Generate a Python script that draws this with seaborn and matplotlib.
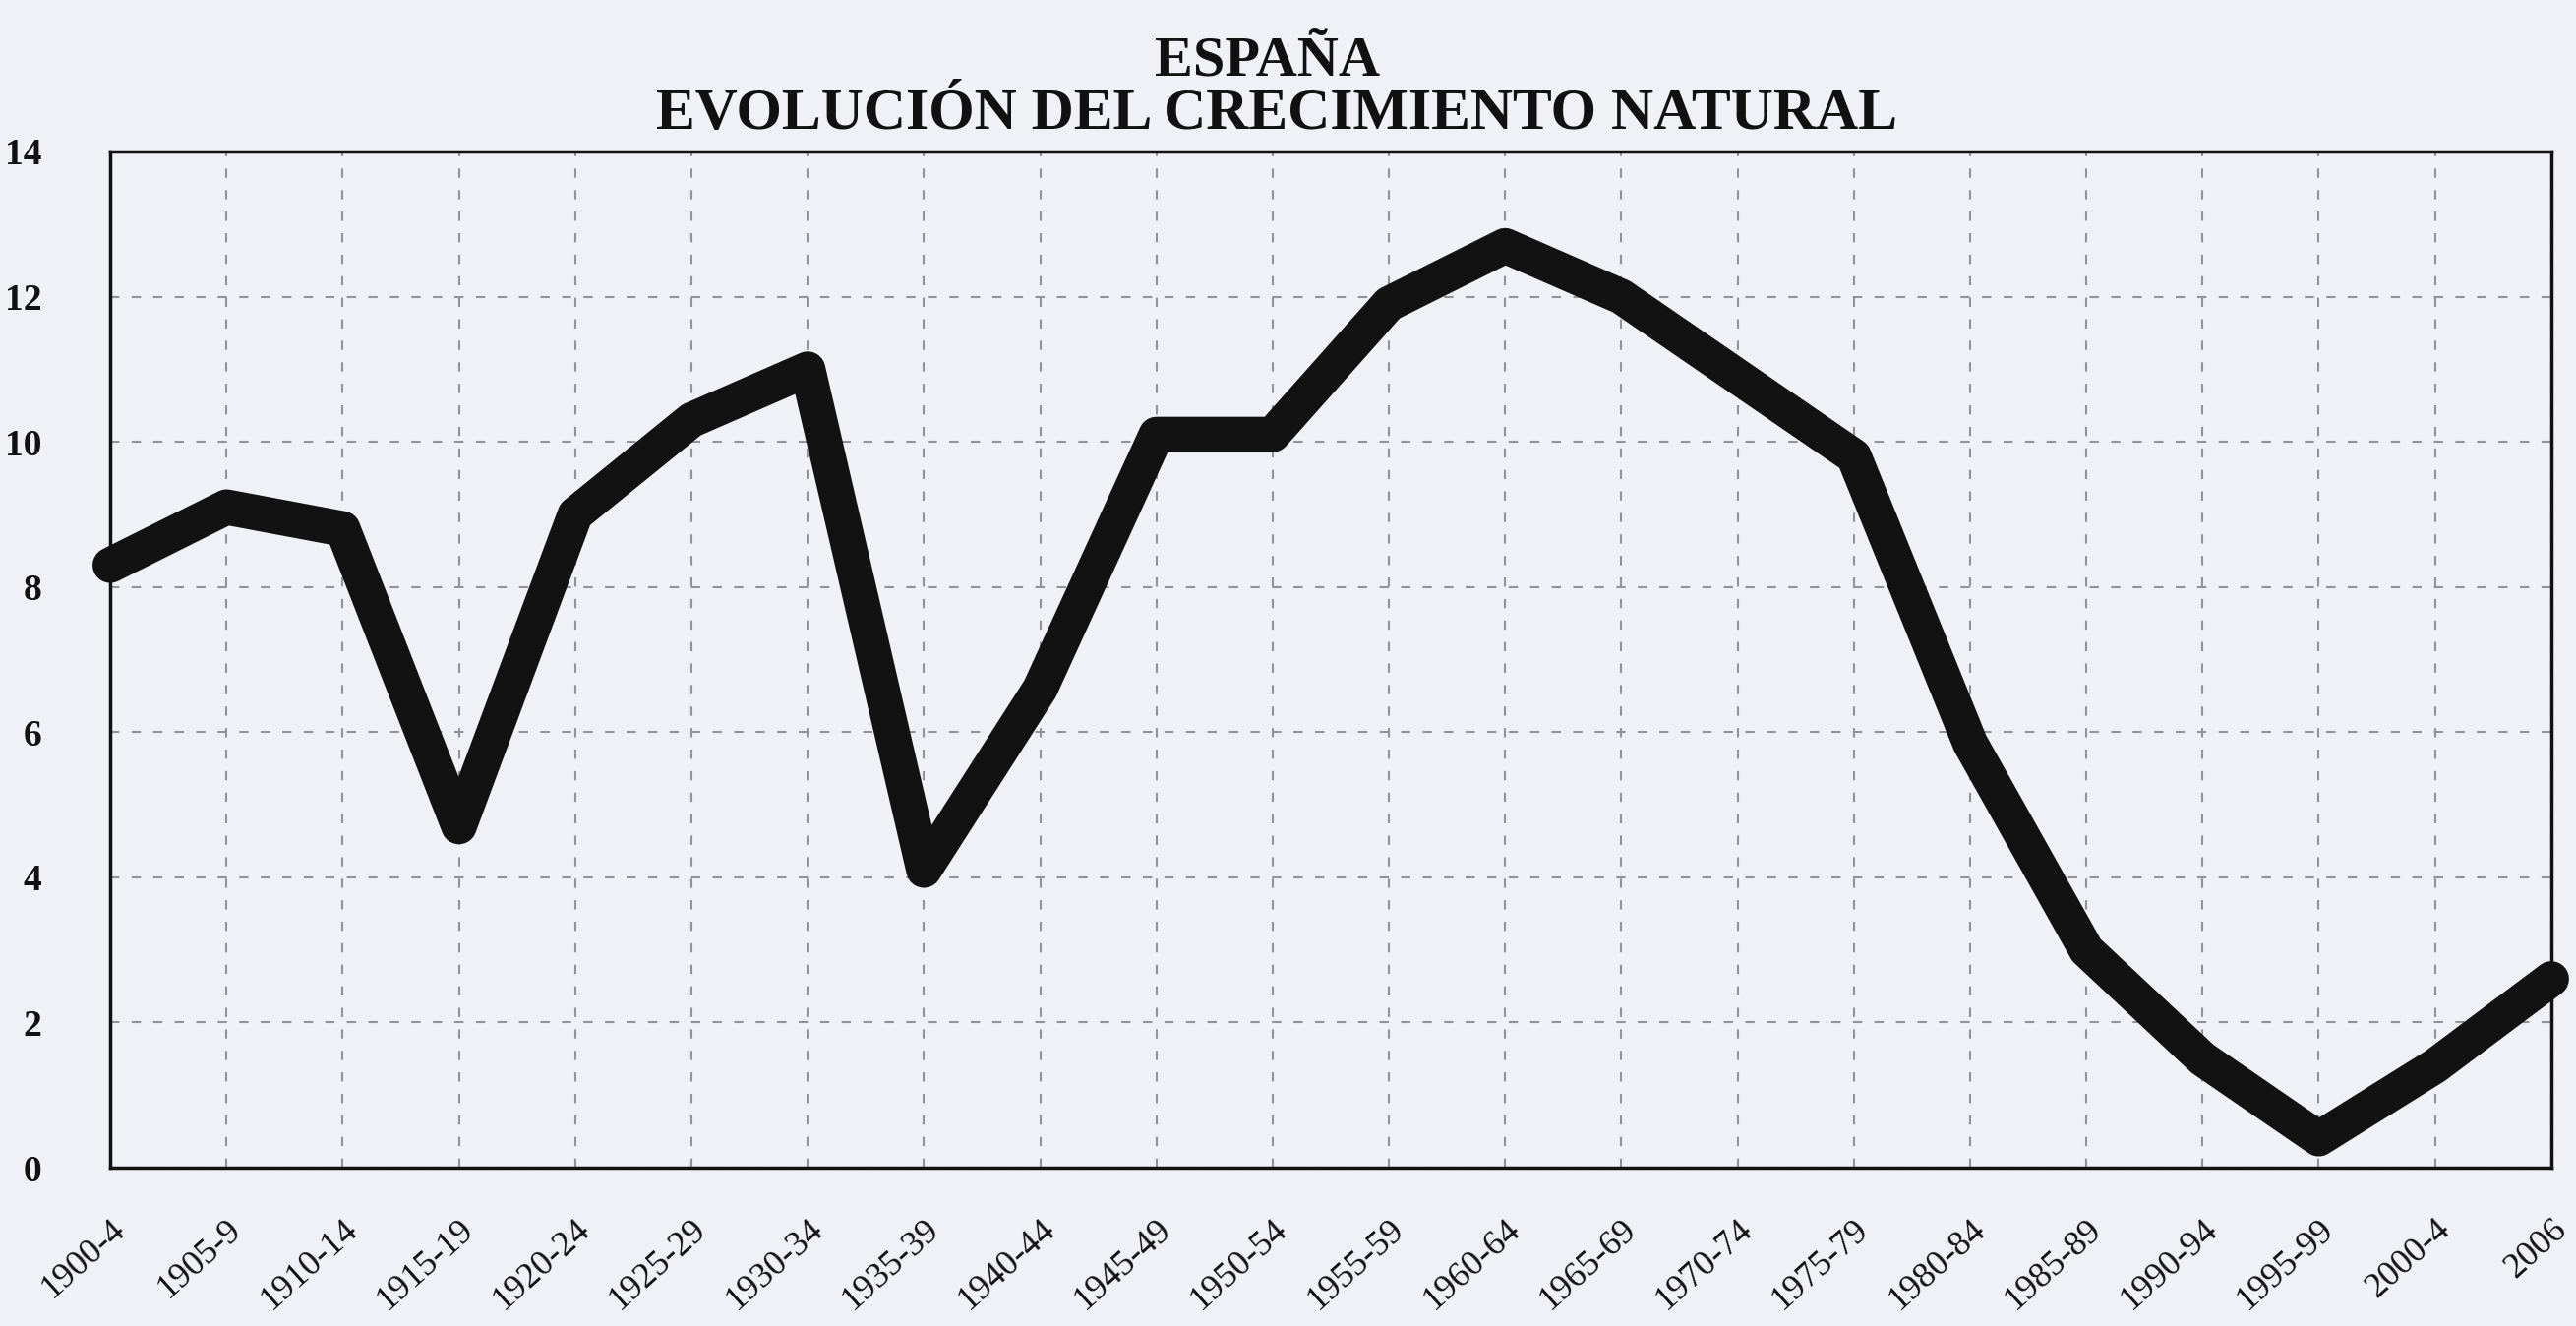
import matplotlib
matplotlib.use("Agg")
import matplotlib.pyplot as plt
import seaborn as sns
import pandas as pd

periods = ["1900-4", "1905-9", "1910-14", "1915-19", "1920-24", "1925-29",
           "1930-34", "1935-39", "1940-44", "1945-49", "1950-54", "1955-59",
           "1960-64", "1965-69", "1970-74", "1975-79", "1980-84", "1985-89",
           "1990-94", "1995-99", "2000-4", "2006"]
growth = [8.3, 9.1, 8.8, 4.7, 9.0, 10.3, 11.0, 4.1, 6.6, 10.1, 10.1, 11.9,
          12.7, 12.0, 10.9, 9.8, 5.85, 3.0, 1.5, 0.4, 1.4, 2.6]
y_ticks = [0, 2, 4, 6, 8, 10, 12, 14]
title_lines = ["ESPAÑA", "EVOLUCIÓN DEL CRECIMIENTO NATURAL"]

df = pd.DataFrame({"periodo": periods, "crecimiento": growth})

sns.set_theme(style="white")
plt.rcParams["font.family"] = ["Liberation Serif", "DejaVu Serif"]

paper = "#f0f0f7"
fig = plt.figure(figsize=(26.19, 13.48), dpi=100, facecolor=paper)
ax = fig.add_axes([0.0428, 0.1194, 0.9476, 0.7664])
ax.set_facecolor(paper)

sns.lineplot(data=df, x="periodo", y="crecimiento", ax=ax, color="#121212",
             linewidth=26, sort=False, solid_joinstyle="round",
             solid_capstyle="round", zorder=3, clip_on=False)

ax.set_xlim(0, len(periods) - 1)
ax.set_ylim(0, 14)
ax.set_yticks(y_ticks)
ax.set_xticks(range(len(periods)))
ax.set_xticklabels(periods, rotation=42, ha="right", rotation_mode="anchor",
                   fontsize=26, color="#111111")
ax.set_yticklabels([str(v) for v in y_ticks], fontsize=27, fontweight="bold",
                   color="#111111")
ax.tick_params(axis="x", length=0, pad=33)
ax.tick_params(axis="y", length=0, pad=50)
ax.set_xlabel("")
ax.set_ylabel("")

ax.grid(True, which="major", axis="both", color="#929299",
        linestyle=(0, (4.5, 6)), linewidth=1.5, zorder=1)
for s in ax.spines.values():
    s.set_visible(True)
    s.set_color("#111111")
    s.set_linewidth(2.5)
    s.set_zorder(4)

fig.text(0.492, 0.9435, title_lines[0], ha="center", va="baseline",
         fontsize=42, fontweight="bold", color="#111111")
fig.text(0.4955, 0.9025, title_lines[1], ha="center", va="baseline",
         fontsize=43, fontweight="bold", color="#111111")

fig.savefig("out.png", dpi=100, facecolor=paper)
